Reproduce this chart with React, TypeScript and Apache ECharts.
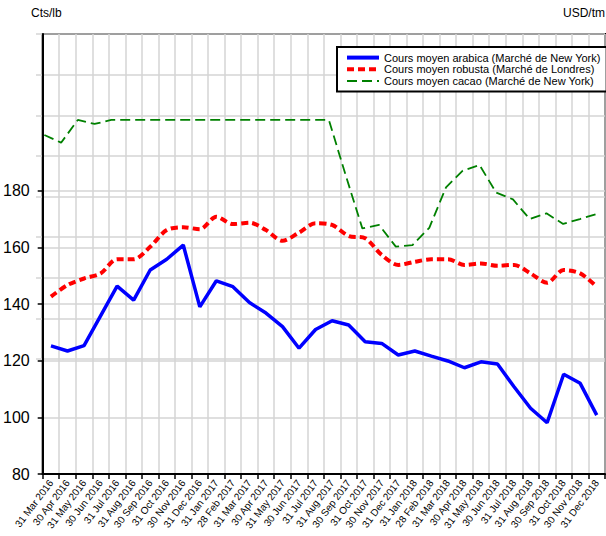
import React, { useEffect, useRef } from "react";
import * as echarts from "echarts";

const categories = [
  "31 Mar 2016", "30 Apr 2016", "31 May 2016", "30 Jun 2016", "31 Jul 2016", "31 Aug 2016",
  "30 Sep 2016", "31 Oct 2016", "30 Nov 2016", "31 Dec 2016", "31 Jan 2017", "28 Feb 2017",
  "31 Mar 2017", "30 Apr 2017", "31 May 2017", "30 Jun 2017", "31 Jul 2017", "31 Aug 2017",
  "30 Sep 2017", "31 Oct 2017", "30 Nov 2017", "31 Dec 2017", "31 Jan 2018", "28 Feb 2018",
  "31 Mar 2018", "30 Apr 2018", "31 May 2018", "30 Jun 2018", "31 Jul 2018", "31 Aug 2018",
  "30 Sep 2018", "31 Oct 2018", "30 Nov 2018", "31 Dec 2018",
];

const arabica = [
  125.2, 123.4, 125.3, 135.8, 146.3, 141.4, 152.0, 155.8, 160.8, 139.0, 148.2, 146.1,
  140.5, 136.8, 132.0, 124.4, 131.0, 134.1, 132.6, 126.7, 126.1, 122.0, 123.4, 121.6,
  119.9, 117.5, 119.6, 118.8, 110.8, 103.2, 98.1, 115.2, 112.0, 100.8,
];

const robusta = [
  142.6, 146.7, 149.0, 150.8, 155.8, 155.8, 160.2, 166.1, 167.1, 166.4, 170.8, 168.2,
  168.7, 166.1, 162.3, 165.2, 168.5, 167.9, 164.0, 163.2, 157.3, 153.8, 154.9, 155.8,
  155.8, 153.8, 154.3, 153.5, 153.8, 150.8, 147.5, 152.0, 150.8, 146.1,
];

const cacao = [
  2903, 2865, 2977, 2957, 2977, 2977, 2977, 2977, 2977, 2977, 2977, 2977,
  2977, 2977, 2977, 2977, 2977, 2977, 2706, 2443, 2460, 2353, 2361, 2446,
  2645, 2727, 2755, 2619, 2586, 2489, 2517, 2465, 2489, 2514,
];

const leftTicks = [80, 100, 120, 140, 160, 180];

const seriesNames = [
  "Cours moyen arabica (Marché de New York)",
  "Cours moyen robusta (Marché de Londres)",
  "Cours moyen cacao (Marché de New York)",
];

const FONT = "'Liberation Sans', Arial, sans-serif";
const GRID_GRAY = "#d4d4d4";

export default function App() {
  const ref = useRef<HTMLDivElement>(null);

  useEffect(() => {
    if (!ref.current) return;
    const chart = echarts.init(ref.current, null, { renderer: "svg" });
    chart.setOption({
      animation: false,
      backgroundColor: "#ffffff",
      graphic: [
        {
          type: "text",
          left: 31,
          top: 7,
          style: { text: "Cts/lb", fill: "#000", font: `12px ${FONT}` },
        },
        {
          type: "text",
          right: 1,
          top: 7,
          style: { text: "USD/tm", fill: "#000", font: `12px ${FONT}` },
        },
      ],
      legend: {
        orient: "vertical",
        left: 337,
        top: 47,
        itemWidth: 32,
        itemHeight: 14,
        itemGap: 0.5,
        padding: [5, 6, 5, 8],
        backgroundColor: "#ffffff",
        borderColor: "#000000",
        borderWidth: 2,
        borderRadius: 0,
        data: [
          { name: seriesNames[0], lineStyle: { width: 4 } },
          { name: seriesNames[1], lineStyle: { width: 4 } },
          { name: seriesNames[2], lineStyle: { width: 2 } },
        ],
        itemStyle: { opacity: 0 },
        textStyle: { fontFamily: FONT, fontSize: 11, color: "#000" },
        z: 10,
      },
      grid: [
        {
          left: 36,
          right: 1,
          top: 34,
          bottom: 62,
          show: true,
          borderColor: "#000",
          borderWidth: 2,
          containLabel: false,
        },
        {
          left: 36,
          right: 1,
          top: 34,
          height: 325,
          show: false,
          containLabel: false,
        },
      ],
      xAxis: [
        {
          type: "category",
          gridIndex: 0,
          data: categories,
          boundaryGap: true,
          axisLine: { show: true, lineStyle: { color: "#000", width: 2 } },
          axisTick: { show: true, interval: 0, length: 5, lineStyle: { color: "#000", width: 1.5 } },
          axisLabel: {
            interval: 0,
            rotate: 53,
            margin: 7,
            fontFamily: FONT,
            fontSize: 10,
            color: "#000",
          },
          splitLine: { show: true, interval: 0, lineStyle: { color: GRID_GRAY, width: 1.5 } },
        },
        {
          type: "category",
          gridIndex: 1,
          data: categories,
          boundaryGap: true,
          show: false,
        },
      ],
      yAxis: [
        {
          type: "value",
          gridIndex: 0,
          min: 80,
          max: 235.3,
          interval: 20,
          axisLine: { show: true, lineStyle: { color: "#000", width: 2 } },
          axisTick: {
            show: true,
            length: 5,
            customValues: leftTicks,
            lineStyle: { color: "#000", width: 1.5 },
          },
          axisLabel: {
            customValues: leftTicks,
            margin: 13,
            fontFamily: FONT,
            fontSize: 16,
            color: "#000",
          },
          splitLine: { show: true, lineStyle: { color: GRID_GRAY, width: 1.5 } },
        },
        {
          type: "value",
          gridIndex: 1,
          position: "right",
          min: 1800,
          max: 3400,
          interval: 200,
          axisLine: { show: false },
          axisTick: { show: false },
          axisLabel: { show: false },
          splitLine: { show: true, lineStyle: { color: GRID_GRAY, width: 1.5 } },
        },
      ],
      series: [
        {
          name: seriesNames[0],
          type: "line",
          xAxisIndex: 0,
          yAxisIndex: 0,
          data: arabica,
          symbol: "none",
          lineStyle: { color: "#0000ff", width: 3.5, type: "solid" },
          itemStyle: { color: "#0000ff" },
          z: 4,
        },
        {
          name: seriesNames[1],
          type: "line",
          xAxisIndex: 0,
          yAxisIndex: 0,
          data: robusta,
          symbol: "none",
          smooth: 0.3,
          lineStyle: { color: "#ff0000", width: 4, type: [7, 4] },
          itemStyle: { color: "#ff0000" },
          z: 3,
        },
        {
          name: seriesNames[2],
          type: "line",
          xAxisIndex: 1,
          yAxisIndex: 1,
          data: cacao,
          symbol: "none",
          lineStyle: { color: "#008000", width: 1.8, type: [10, 5] },
          itemStyle: { color: "#008000" },
          z: 3,
        },
      ],
    });
    return () => chart.dispose();
  }, []);

  return (
    <div
      ref={ref}
      style={{ position: "fixed", left: 0, top: 0, width: 606, height: 536 }}
    />
  );
}
